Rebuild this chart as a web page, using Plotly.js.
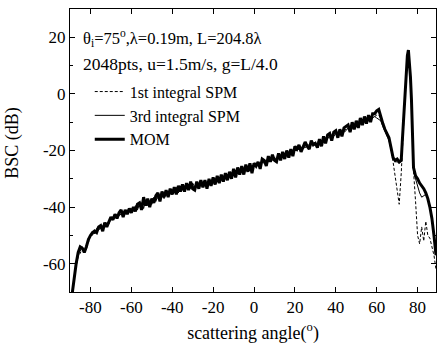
<!DOCTYPE html>
<html>
<head>
<meta charset="utf-8">
<script src="https://cdn.plot.ly/plotly-3.0.1.min.js"></script>
<style>html,body{margin:0;padding:0;background:#fff;}#chart{width:437px;height:344px;}</style>
</head>
<body>
<div id="chart"></div>
<script>
// scattering angles (degrees)
const angles = [
-89,-88,-87,-86,-85,-84,-83,-82,-81,-80,
-79,-78,-77,-76,-75,-74,-73,-72,-71,-70,
-69,-68,-67,-66,-65,-64,-63,-62,-61,-60,
-59,-58,-57,-56,-55,-54,-53,-52,-51,-50,
-49,-48,-47,-46,-45,-44,-43,-42,-41,-40,
-39,-38,-37,-36,-35,-34,-33,-32,-31,-30,
-29,-28,-27,-26,-25,-24,-23,-22,-21,-20,
-19,-18,-17,-16,-15,-14,-13,-12,-11,-10,
-9,-8,-7,-6,-5,-4,-3,-2,-1,0,
1,2,3,4,5,6,7,8,9,10,
11,12,13,14,15,16,17,18,19,20,
21,22,23,24,25,26,27,28,29,30,
31,32,33,34,35,36,37,38,39,40,
41,42,43,44,45,46,47,48,49,50,
51,52,53,54,55,56,57,58,59,60,
61,62,63,64,65,66,67,68,69,70,71,
72,72.5,73,73.5,74,74.5,75,75.5,76,76.5,77,77.5,78,
79,80,81,82,83,84,85,86,87,88,89
];

// MOM (dB)
const mom = [
-71,-65,-60,-56,-54,-54.5,-56,-54,-51.5,-50,
-49,-48.5,-49,-47,-46.5,-48.5,-45.5,-47,-45,-43.5,
-44.5,-42.5,-44,-42,-41,-43.5,-41,-42.5,-40.5,-42,
-40,-41.5,-39,-38.5,-41,-36.5,-39.5,-37,-40,-37,
-38.5,-36,-35,-38,-34.5,-36.5,-34,-36.5,-33.5,-35.5,
-33,-35.5,-32.5,-34.5,-32,-34.5,-31.5,-34,-31,-33.5,
-34,-31,-33.5,-30.5,-33,-30.5,-33.5,-30,-32.5,-29.5,
-32,-29,-31.5,-28.5,-31,-28,-30.5,-27.5,-30,-26.5,
-29.5,-26,-28.5,-25.5,-28.5,-25,-27.5,-24.5,-28,-24.5,
-25.5,-24,-26.5,-23,-23.5,-25.5,-22,-24,-21.5,-23.5,
-24,-21,-23.5,-20.5,-23,-20,-22.5,-19.5,-22,-18.5,
-19.5,-18,-20.5,-19,-17,-18.5,-19.5,-16.5,-18,-17.5,
-19,-16,-18.5,-15,-17.5,-14.5,-14,-16.5,-13.5,-13,
-15.5,-12.5,-15,-12,-11.5,-11,-13.5,-10,-12.5,-9.5,
-12,-8.5,-11,-8,-10.5,-7.5,-10,-7,-7,-6,
-5.5,-8.5,-10.5,-12.5,-14,-15.5,-19,-22.5,-23.5,-23,-24,
-23.5,-17,-11,-3.5,3.5,9,13.5,15.5,11,6,-2,-12,-26,
-29,-30,-31.5,-32.5,-33.5,-35,-37,-40,-44,-50,-57
];

// 3rd integral SPM (dB)
const spm3 = [
-71,-64,-59.5,-56.5,-55.5,-54,-55.5,-55,-51,-50.5,
-48.5,-49.5,-47.5,-48,-47.5,-46.5,-47,-45.5,-46,-44,
-43.5,-44,-42.5,-43,-42.5,-41.5,-42.5,-41,-41.5,-40.5,
-41.5,-39.5,-41,-39,-38.5,-40.5,-37.5,-39.5,-38,-39,
-36.5,-38,-36,-36.5,-35,-37,-34.5,-36,-34,-35.5,
-34.5,-33,-35,-32.5,-34,-33,-33.5,-32,-33.5,-31.5,
-33,-32,-32.5,-31.5,-32.5,-31,-32,-30.5,-31.5,-30.5,
-31,-30,-30.5,-29.5,-30,-29,-29.5,-28.5,-29,-27.5,
-28,-27.5,-27.5,-26.5,-27,-26,-26.5,-25.5,-26,-25,
-25.5,-24.5,-25,-24,-24.5,-23.5,-24,-23,-23.5,-22.5,
-23,-22,-22.5,-21.5,-22,-21,-21.5,-20.5,-21,-20,
-20,-19.5,-19.5,-19,-19,-18.5,-18.5,-18,-17.5,-18,
-17.5,-17.5,-16.5,-16.5,-16,-15.5,-15.5,-15,-15,-14,
-14.5,-14,-13.5,-13.5,-13,-12,-12.5,-11.5,-11.5,-11,
-11,-10.5,-10,-9.5,-9.5,-9,-9,-8.5,-8,-8.5,
-9,-9.5,-11.5,-13,-14.5,-16.5,-19.5,-22.5,-24,-24,-24.5,
-23.8,-17.5,-11.5,-4,3,8.5,13,15,10.5,5.5,-2.5,-12.5,-26.5,
-30,-32.5,-35,-36.5,-36,-35.5,-37,-40,-43.5,-50,-57
];

// 1st integral SPM (dB)
const spm1 = [
-70.5,-65.5,-61,-57.5,-56,-55,-55,-54,-52.5,-50,
-50,-48,-49,-47,-48,-46.5,-46.5,-46.5,-45.5,-44.5,
-44,-43,-43.5,-42.5,-42.5,-42.5,-41.5,-41.5,-41.5,-41,
-40.5,-41,-40,-39.5,-39.5,-39,-38.5,-38.5,-38,-38,
-37.5,-37.5,-36.5,-37,-36,-36,-35.5,-35,-35.5,-34.5,
-34.5,-34,-34,-33.5,-33,-33.5,-33,-33,-32.5,-33,
-32.5,-32.5,-32,-32,-31.5,-31.5,-31.5,-31,-31,-30.5,
-30.5,-30,-30,-29.5,-29.5,-29,-28.5,-28.5,-28,-28,
-27.5,-27,-27,-26.5,-26.5,-26,-26,-25.5,-25.5,-25,
-25,-24.5,-24.5,-24,-24,-23.5,-23,-23,-22.5,-22.5,
-22,-22,-21.5,-21.5,-21,-21,-20.5,-20.5,-20,-19.5,
-19.5,-19,-19,-18.5,-18.5,-18,-18,-17.5,-17.5,-17,
-17,-16.5,-16.5,-16,-16,-15.5,-15,-15,-14.5,-14,
-14,-13.5,-13.5,-13,-12.5,-12.5,-12,-11.5,-11.5,-11,
-10.5,-10.5,-10,-9.5,-9.5,-9,-8.5,-8.5,-8,-7.5,
-7.5,-8.8,-11,-13,-14.5,-16,-19.5,-24,-29,-34,-39,
-28,-20,-12,-4,3,8.5,13,15,10.5,5.5,-2.5,-12.5,-27,
-38,-50,-53,-47,-52,-45,-50,-51,-54,-57,-62
];

const xTickVals = [-80,-60,-40,-20,0,20,40,60,80];
const xTickText = ['-80','-60','-40','-20','0','20','40','60','80'];
const yTickVals = [-60,-40,-20,0,20];
const yTickText = ['-60','-40','-20','0','20'];

const FONT = '"Liberation Serif", "Times New Roman", serif';

const traces = [
  {x: angles, y: spm1, type: 'scatter', mode: 'lines', name: '1st integral SPM',
   line: {color: '#000', width: 1, dash: '3px,2px'}},
  {x: angles, y: spm3, type: 'scatter', mode: 'lines', name: '3rd integral SPM',
   line: {color: '#000', width: 1}},
  {x: angles, y: mom, type: 'scatter', mode: 'lines', name: 'MOM',
   line: {color: '#000', width: 3}}
];

function axisCommon() {
  return {
    showline: true, linecolor: '#000', linewidth: 1, mirror: 'ticks',
    ticks: 'inside', ticklen: 5, tickwidth: 1, tickcolor: '#000',
    showgrid: false, zeroline: false,
    tickfont: {family: FONT, size: 17, color: '#000'}
  };
}

const layout = {
  width: 437, height: 344,
  margin: {l: 70, r: 1, t: 9, b: 52},
  paper_bgcolor: '#fff', plot_bgcolor: '#fff',
  font: {family: FONT, color: '#000', size: 16},
  showlegend: true,
  legend: {x: 0.054, y: 0.768, xanchor: 'left', yanchor: 'top',
           bgcolor: 'rgba(0,0,0,0)', borderwidth: 0, itemwidth: 30,
           font: {family: FONT, size: 16, color: '#000'}, tracegroupgap: 0},
  xaxis: Object.assign(axisCommon(), {
    range: [-90, 89], tickmode: 'array', tickvals: xTickVals, ticktext: xTickText,
    title: {text: 'scattering angle(<sup>o</sup>)', font: {family: FONT, size: 18, color: '#000'}, standoff: 11}
  }),
  yaxis: Object.assign(axisCommon(), {
    range: [-70, 30], tickmode: 'array', tickvals: yTickVals, ticktext: yTickText,
    minor: {dtick: 10, tick0: 0, ticks: 'inside', ticklen: 3, tickcolor: '#000', showgrid: false}
  }),
  annotations: [
    {xref: 'paper', yref: 'paper', x: 0.03, y: 0.898, xanchor: 'left', yanchor: 'middle', showarrow: false,
     text: 'θ<sub>i</sub>=75<sup>o</sup>,λ=0.19m, L=204.8λ', font: {family: FONT, size: 16.5, color: '#000'}},
    {xref: 'paper', yref: 'paper', x: 0.03, y: 0.805, xanchor: 'left', yanchor: 'middle', showarrow: false,
     text: '2048pts, u=1.5m/s, g=L/4.0', font: {family: FONT, size: 17.5, color: '#000'}},
    {xref: 'paper', yref: 'paper', x: -0.158, y: 0.528, xanchor: 'center', yanchor: 'middle', showarrow: false,
     textangle: -90, text: 'BSC (dB)', font: {family: FONT, size: 18, color: '#000'}}
  ]
};

Plotly.newPlot('chart', traces, layout, {staticPlot: true, displayModeBar: false});
</script>
</body>
</html>
